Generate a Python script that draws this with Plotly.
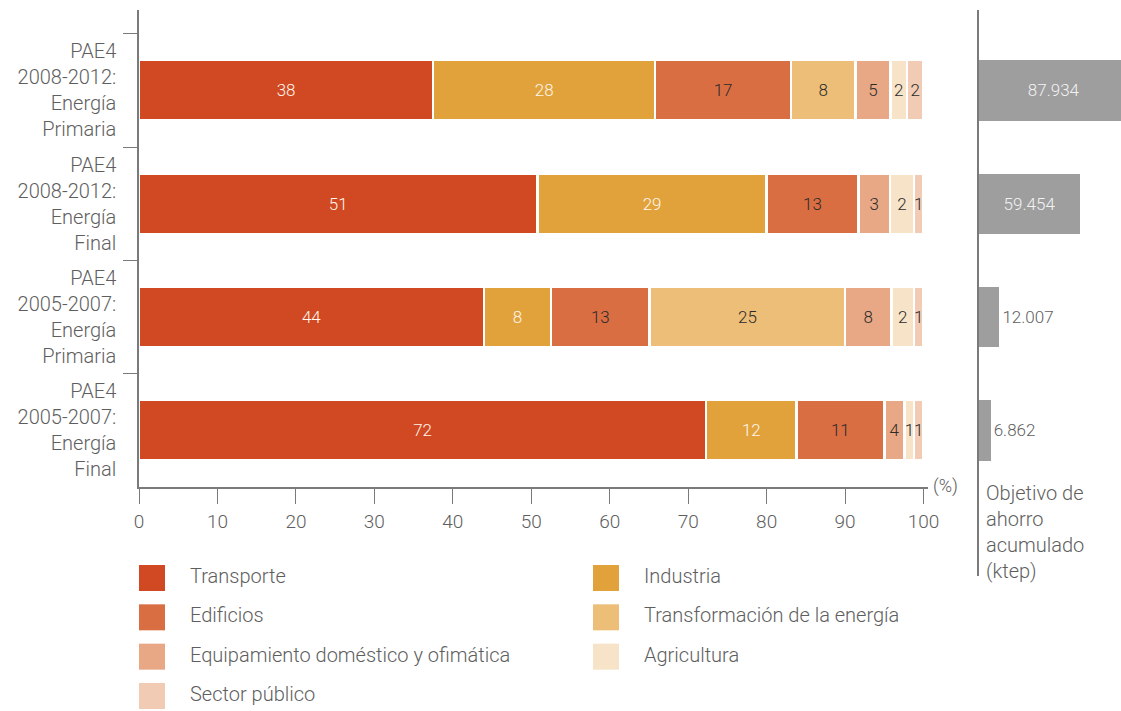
import plotly.graph_objects as go

W, H = 1121, 711

# ---- data (rows listed bottom -> top) ----
rows = [
    "PAE4<br>2005-2007:<br>Energía<br>Final",
    "PAE4<br>2005-2007:<br>Energía<br>Primaria",
    "PAE4<br>2008-2012:<br>Energía<br>Final",
    "PAE4<br>2008-2012:<br>Energía<br>Primaria",
]
sectors = ["Transporte", "Industria", "Edificios", "Transformación de la energía",
           "Equipamiento doméstico y ofimática", "Agricultura", "Sector público"]
colors = ["#D04922", "#E2A23B", "#DA6E43", "#ECBE78", "#E8A885", "#F7E4C8", "#F2CBB5"]
text_colors = ["#FFF6EC", "#FFF6EC", "#2B2B2B", "#2B2B2B", "#2B2B2B", "#2B2B2B", "#2B2B2B"]

# shares as drawn (%) and the printed labels
transporte = [72.3, 44.0, 50.8, 37.5]
industria = [11.5, 8.5, 29.2, 28.3]
edificios = [11.2, 12.6, 11.7, 17.3]
transformacion = [None, 24.9, None, 8.2]
equipamiento = [2.6, 5.9, 4.0, 4.5]
agricultura = [1.2, 2.9, 3.1, 2.1]
sector_publico = [1.2, 1.2, 1.2, 2.1]

lab_transporte = [72, 44, 51, 38]
lab_industria = [12, 8, 29, 28]
lab_edificios = [11, 13, 13, 17]
lab_transformacion = [None, 25, None, 8]
lab_equipamiento = [4, 8, 3, 5]
lab_agricultura = [1, 2, 2, 2]
lab_sector_publico = [1, 1, 1, 2]

ahorro_ktep = [6862, 12007, 59454, 87934]

x_ticks = list(range(0, 101, 10))

series = [transporte, industria, edificios, transformacion, equipamiento, agricultura, sector_publico]
labels = [lab_transporte, lab_industria, lab_edificios, lab_transformacion,
          lab_equipamiento, lab_agricultura, lab_sector_publico]

FONT = "Roboto, 'Open Sans', sans-serif"
WEIGHT = 300
GREY_TXT = "#5E5E5E"
AXIS = "#7A7A7A"

fig = go.Figure()

for name, vals, labs, col, tcol in zip(sectors, series, labels, colors, text_colors):
    fig.add_trace(go.Bar(
        y=rows, x=vals, orientation="h", name=name,
        marker=dict(color=col, line=dict(color="white", width=2.5)),
        text=["" if l is None else str(l) for l in labs],
        texttemplate="%{text}", textposition="inside", insidetextanchor="middle",
        textangle=0, constraintext="none",
        textfont=dict(family=FONT, size=17, color=tcol, weight=WEIGHT),
        xaxis="x", yaxis="y", showlegend=False, hoverinfo="skip",
    ))

# right panel: cumulative saving target
fig.add_trace(go.Bar(
    y=rows, x=ahorro_ktep, orientation="h",
    marker=dict(color="#9E9E9F", line=dict(width=0)),
    texttemplate="%{x:,}", textposition="auto", textangle=0, constraintext="none",
    insidetextanchor="middle",
    insidetextfont=dict(family=FONT, size=17, color="#F2F2F2", weight=WEIGHT),
    outsidetextfont=dict(family=FONT, size=17, color=GREY_TXT, weight=WEIGHT),
    xaxis="x2", yaxis="y2", showlegend=False, hoverinfo="skip",
))

# legend drawn as its own small panel
cols_idx = [i % 2 for i in range(len(sectors))]
rows_idx = [i // 2 for i in range(len(sectors))]
fig.add_trace(go.Scatter(
    x=cols_idx, y=rows_idx, mode="markers",
    marker=dict(symbol="square", size=26, color=colors, line=dict(width=0)),
    xaxis="x3", yaxis="y3", showlegend=False, hoverinfo="skip", cliponaxis=False,
))
fig.add_trace(go.Scatter(
    x=[c + 38 / 454 for c in cols_idx], y=rows_idx, mode="text",
    text=sectors, textposition="middle right",
    textfont=dict(family=FONT, size=20, color=GREY_TXT, weight=WEIGHT),
    xaxis="x3", yaxis="y3", showlegend=False, hoverinfo="skip", cliponaxis=False,
))

px_unit = 477 / (3.71 + 0.499)

fig.update_layout(
    width=W, height=H, autosize=False,
    margin=dict(l=0, r=0, t=0, b=0, autoexpand=False),
    paper_bgcolor="white", plot_bgcolor="white",
    barmode="stack", bargap=0.466,
    separators=",.",
    font=dict(family=FONT, size=19, color=GREY_TXT, weight=WEIGHT),
    xaxis=dict(
        domain=[139 / W, 928 / W], range=[0, 100.57], automargin=False,
        tickvals=x_ticks, ticks="outside", ticklen=15, tickwidth=1.3, tickcolor=AXIS,
        showline=True, linecolor=AXIS, linewidth=1.5,
        showgrid=False, zeroline=False, anchor="y",
        tickfont=dict(family=FONT, size=19, color=GREY_TXT, weight=WEIGHT),
        ticklabelstandoff=1,
    ),
    yaxis=dict(
        domain=[(H - 487) / H, (H - 10) / H], range=[-0.499, 3.71], automargin=False,
        type="category", tickson="boundaries", ticks="outside", ticklen=14,
        tickwidth=1.3, tickcolor=AXIS,
        showline=True, linecolor=AXIS, linewidth=1.5,
        showgrid=False, zeroline=False, anchor="x",
        tickfont=dict(family=FONT, size=20, color=GREY_TXT, weight=WEIGHT),
        ticklabelstandoff=17,
    ),
    xaxis2=dict(
        domain=[979 / W, 1.0], range=[0, 83600], visible=False, anchor="y2",
        automargin=False,
    ),
    yaxis2=dict(
        domain=[(H - 576) / H, (H - 10) / H], automargin=False,
        range=[3.71 - 566 / px_unit, 3.71], type="category",
        showline=True, linecolor=AXIS, linewidth=1.5,
        showticklabels=False, ticks="", showgrid=False, zeroline=False, anchor="x2",
    ),
    xaxis3=dict(
        domain=[0, 1], range=[-152 / 454, (W - 152) / 454], visible=False, anchor="y3",
        automargin=False,
    ),
    yaxis3=dict(
        domain=[0, (H - 576) / H], range=[3 + 15 / 39.33, -2 / 39.33],
        visible=False, anchor="x3", automargin=False,
    ),
    annotations=[
        dict(text="(%)", xref="paper", yref="paper", x=931 / W, y=(H - 486) / H,
             xanchor="left", yanchor="middle", showarrow=False,
             font=dict(family=FONT, size=18, color=GREY_TXT, weight=WEIGHT)),
        dict(text="Objetivo de<br>ahorro<br>acumulado<br>(ktep)", xref="paper", yref="paper",
             x=984 / W, y=(H - 479) / H, xanchor="left", yanchor="top", align="left",
             showarrow=False, font=dict(family=FONT, size=20, color=GREY_TXT, weight=WEIGHT)),
    ],
)

fig.write_html("out.html")
